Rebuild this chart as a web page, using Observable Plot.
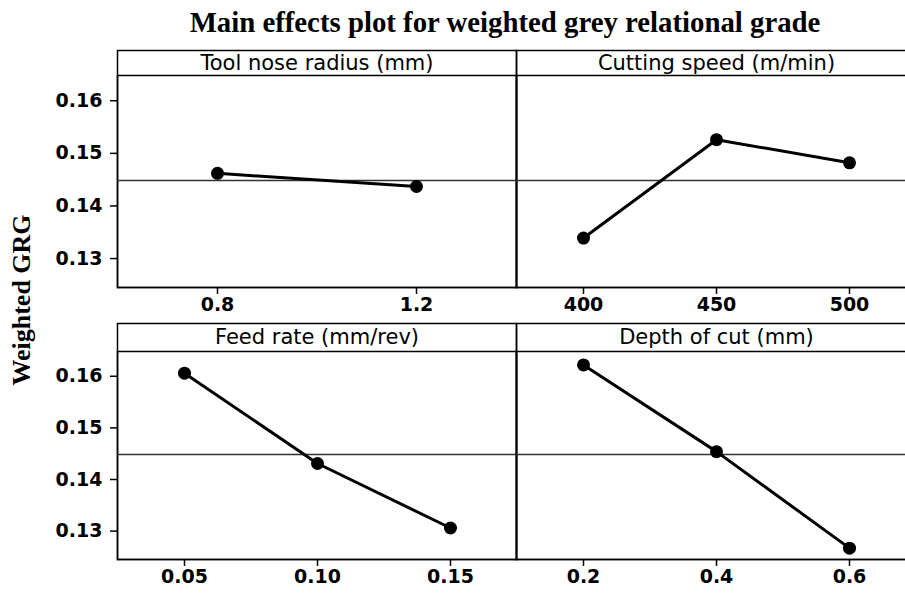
<!DOCTYPE html>
<html>
<head>
<meta charset="utf-8">
<script src="https://cdn.jsdelivr.net/npm/d3@7"></script>
<script src="https://cdn.jsdelivr.net/npm/@observablehq/plot@0.6"></script>
<style>
html, body { margin: 0; padding: 0; background: #fff; overflow: hidden; }
#fig { position: relative; width: 930px; height: 593px; }
#fig > svg { position: absolute; }
</style>
</head>
<body>
<div id="fig"></div>
<script>
// ---- data ----
const chartTitle = "Main effects plot for weighted grey relational grade";
const yLabel = "Weighted GRG";

const factorNames = ["Tool nose radius (mm)", "Cutting speed (m/min)", "Feed rate (mm/rev)", "Depth of cut (mm)"];

const toolNoseLevels = ["0.8", "1.2"];
const toolNoseGRG = [0.1462, 0.1437];

const speedLevels = ["400", "450", "500"];
const speedGRG = [0.1339, 0.1526, 0.1482];

const feedLevels = ["0.05", "0.10", "0.15"];
const feedGRG = [0.1606, 0.1431, 0.1306];

const depthLevels = ["0.2", "0.4", "0.6"];
const depthGRG = [0.1622, 0.1454, 0.1267];

const yTicks = [0.13, 0.14, 0.15, 0.16];
const yDomain = [0.1245, 0.1648];

// ---- chart ----
const grandMean = d3.mean([toolNoseGRG, speedGRG, feedGRG, depthGRG].map(v => d3.mean(v)));
const fig = d3.select("#fig");
const sansFont = "'DejaVu Sans', Verdana, sans-serif";
const serifFont = "'Liberation Serif', 'Times New Roman', serif";

const panels = [
  {name: factorNames[0], levels: toolNoseLevels, values: toolNoseGRG, left: 0,   top: 50,  showY: true,  w: 399, mt: 25, ph: 212, mb: 33},
  {name: factorNames[1], levels: speedLevels,    values: speedGRG,    left: 516, top: 50,  showY: false, w: 400, mt: 25, ph: 212, mb: 33},
  {name: factorNames[2], levels: feedLevels,     values: feedGRG,     left: 0,   top: 323, showY: true,  w: 399, mt: 28, ph: 208, mb: 34},
  {name: factorNames[3], levels: depthLevels,    values: depthGRG,    left: 516, top: 323, showY: false, w: 400, mt: 28, ph: 208, mb: 34}
];

for (const p of panels) {
  const ml = p.showY ? 117 : 0;
  const data = p.levels.map((l, i) => ({level: l, grg: p.values[i]}));
  const chart = Plot.plot({
    width: ml + p.w,
    height: p.mt + p.ph + p.mb,
    marginLeft: ml, marginRight: 0, marginTop: p.mt, marginBottom: p.mb,
    style: {overflow: "visible", background: "transparent", color: "#000", fontFamily: sansFont},
    x: {type: "point", domain: p.levels, padding: 0.5},
    y: {domain: yDomain, axis: p.showY ? undefined : null},
    marks: [
      Plot.frame({stroke: "#000", strokeWidth: 1.5}),
      Plot.frame({stroke: "#000", strokeWidth: 1.5, insetTop: -p.mt}),
      Plot.text([p.name], {frameAnchor: "top", lineAnchor: "middle", dy: -p.mt / 2, fontSize: 21, fontFamily: sansFont, fill: "#000"}),
      Plot.ruleY([grandMean], {stroke: "#333", strokeWidth: 1.5}),
      Plot.line(data, {x: "level", y: "grg", stroke: "#000", strokeWidth: 3}),
      Plot.dot(data, {x: "level", y: "grg", r: 6.5, fill: "#000", stroke: "none"}),
      Plot.axisX({tickSize: 7, tickPadding: 3, fontSize: 19, fontWeight: "bold", label: null, strokeWidth: 1.5}),
      p.showY ? Plot.axisY({ticks: yTicks, tickFormat: d3.format(".2f"), tickSize: 7, tickPadding: 8, fontSize: 19, fontWeight: "bold", label: null, strokeWidth: 1.5}) : null
    ]
  });
  chart.style.left = p.left + "px";
  chart.style.top = p.top + "px";
  fig.node().appendChild(chart);
}

// title and y label as real SVG text
const overlay = fig.append("svg")
  .attr("width", 930).attr("height", 593)
  .style("left", "0px").style("top", "0px").style("pointer-events", "none");

overlay.append("text")
  .attr("transform", "translate(505,32) scale(0.96,1)")
  .attr("text-anchor", "middle")
  .style("font-family", serifFont).style("font-weight", "bold").style("font-size", "30px")
  .text(chartTitle);

overlay.append("text")
  .attr("transform", "translate(30,300) rotate(-90)")
  .attr("text-anchor", "middle")
  .style("font-family", serifFont).style("font-weight", "bold").style("font-size", "26px")
  .text(yLabel);
</script>
</body>
</html>
